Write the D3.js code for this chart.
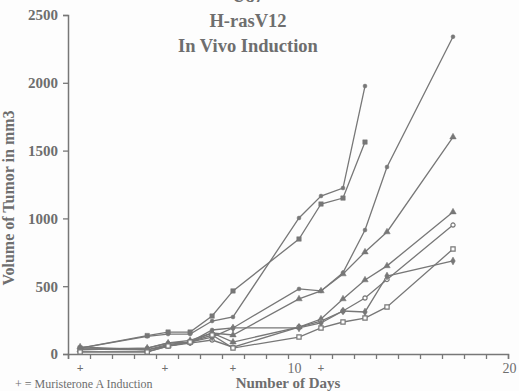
<!DOCTYPE html>
<html>
<head>
<meta charset="utf-8">
<script src="https://cdn.jsdelivr.net/npm/d3@7"></script>
<style>
  html, body { margin: 0; padding: 0; background: #fdfdfd; }
  svg { display: block; }
  text { font-family: "Liberation Serif", "Times New Roman", serif; fill: #6e6e6e; }
</style>
</head>
<body>
<svg id="chart" width="519" height="391"></svg>
<script>
// Measurement days
const days = [0.55, 3.6, 4.55, 5.55, 6.55, 7.5, 10.5, 11.5, 12.5, 13.5, 14.5, 17.5];

// Tumor volume (mm3) for each animal
const tumorA = [44, 130, 147, 147, 243, 273, 1003, 1165, 1224, 1976];
const tumorB = [44, 136, 162, 162, 280, 465, 848, 1106, 1150, 1563];
const tumorC = [37, 44, 81, 88, 177, 192, 480, 465, 600, 914, 1379, 2340];
const tumorD = [52, 30, 59, 88, 155, 140, 406, 465, 590, 752, 900, 1600];
const tumorE = [30, 44, 81, 100, 155, 88, 199, 258, 406, 546, 650, 1047];
const tumorF = [15, 15, 59, 80, 103, 50, 199, 243, 317, 413, 550, 951];
const tumorG = [37, 30, 70, 88, 125, 192, 192, 229, 317, 310, 575, 686];
const tumorH = [15, 15, 59, 88, 140, 44, 125, 192, 236, 265, 347, 774];

const markerShapes = ["dot", "square", "dot", "triangle", "triangle", "openCircle", "diamond", "openSquare"];

// Days on which Muristerone A was given
const inductionDays = [0.55, 4.4, 7.5, 11.5];

const yTicks = [0, 500, 1000, 1500, 2000, 2500];
const xTickLabels = [10, 20];
const titleLines = ["U87", "H-rasV12", "In Vivo Induction"];

const series = [tumorA, tumorB, tumorC, tumorD, tumorE, tumorF, tumorG, tumorH];

const ink = "#777";
const svg = d3.select("#chart");

const x = d3.scaleLinear().domain([0, 20]).range([68, 508]);
const y = d3.scaleLinear().domain([0, 2500]).range([354, 15]);

// Title
svg.append("g").selectAll("text").data(titleLines).join("text")
  .attr("x", 248).attr("y", (d, i) => 2 + i * 25)
  .attr("text-anchor", "middle")
  .attr("font-size", 18.5).attr("font-weight", "bold")
  .text(d => d);

// Y axis
const yAxis = d3.axisLeft(y).tickValues(yTicks).tickSize(5).tickFormat(d3.format("d"));
const gy = svg.append("g").attr("transform", `translate(${x(0)},0)`).call(yAxis);
gy.select(".domain").attr("stroke", ink).attr("stroke-width", 1.5);
gy.selectAll(".tick line").attr("stroke", ink).attr("stroke-width", 1.3);
gy.selectAll(".tick text")
  .attr("font-family", "Liberation Serif, serif").attr("font-size", 15)
  .attr("font-weight", "bold").attr("fill", "#6e6e6e").attr("x", -10);

// X axis: a tick every day, labels at 10 and 20
const xAxis = d3.axisBottom(x).tickValues(d3.range(0, 21)).tickSize(5)
  .tickFormat(d => xTickLabels.includes(d) ? d : "");
const gx = svg.append("g").attr("transform", `translate(0,${y(0)})`).call(xAxis);
gx.select(".domain").attr("stroke", ink).attr("stroke-width", 1.5);
gx.selectAll(".tick line").attr("stroke", ink).attr("stroke-width", 1.3);
gx.selectAll(".tick text")
  .attr("font-family", "Liberation Serif, serif").attr("font-size", 14)
  .attr("fill", "#6e6e6e").attr("dx", d => d === 20 ? 1 : 6).attr("y", 9);

// Induction markers under the axis
svg.append("g").selectAll("text").data(inductionDays).join("text")
  .attr("x", d => x(d)).attr("y", 372)
  .attr("text-anchor", "middle").attr("font-size", 12).attr("font-weight", "bold")
  .text("+");

// Axis titles
svg.append("text")
  .attr("transform", "translate(14,198) rotate(-90)")
  .attr("text-anchor", "middle").attr("font-size", 16).attr("font-weight", "bold")
  .text("Volume of Tumor in mm3");

svg.append("text")
  .attr("x", 288).attr("y", 388)
  .attr("text-anchor", "middle").attr("font-size", 15).attr("font-weight", "bold")
  .text("Number of Days");

svg.append("text")
  .attr("x", 15).attr("y", 388)
  .attr("font-size", 12)
  .text("+ = Muristerone A Induction");

// Growth curves
const line = d3.line().x((d, i) => x(days[i])).y(d => y(d));
const plot = svg.append("g");

series.forEach(vals => {
  plot.append("path")
    .attr("d", line(vals))
    .attr("fill", "none").attr("stroke", ink).attr("stroke-width", 1.3);
});

const symbolFor = {
  dot: d3.symbol().type(d3.symbolCircle).size(12),
  square: d3.symbol().type(d3.symbolSquare).size(20),
  triangle: d3.symbol().type(d3.symbolTriangle).size(18),
  openCircle: d3.symbol().type(d3.symbolCircle).size(14),
  diamond: d3.symbol().type(d3.symbolDiamond).size(18),
  openSquare: d3.symbol().type(d3.symbolSquare).size(18)
};

series.forEach((vals, k) => {
  const shape = markerShapes[k];
  const open = shape.startsWith("open");
  plot.append("g").selectAll("path").data(vals).join("path")
    .attr("transform", (d, i) => `translate(${x(days[i])},${y(d)})`)
    .attr("d", symbolFor[shape]())
    .attr("fill", open ? "#fdfdfd" : ink)
    .attr("stroke", ink).attr("stroke-width", open ? 1.2 : 0.5);
});
</script>
</body>
</html>
